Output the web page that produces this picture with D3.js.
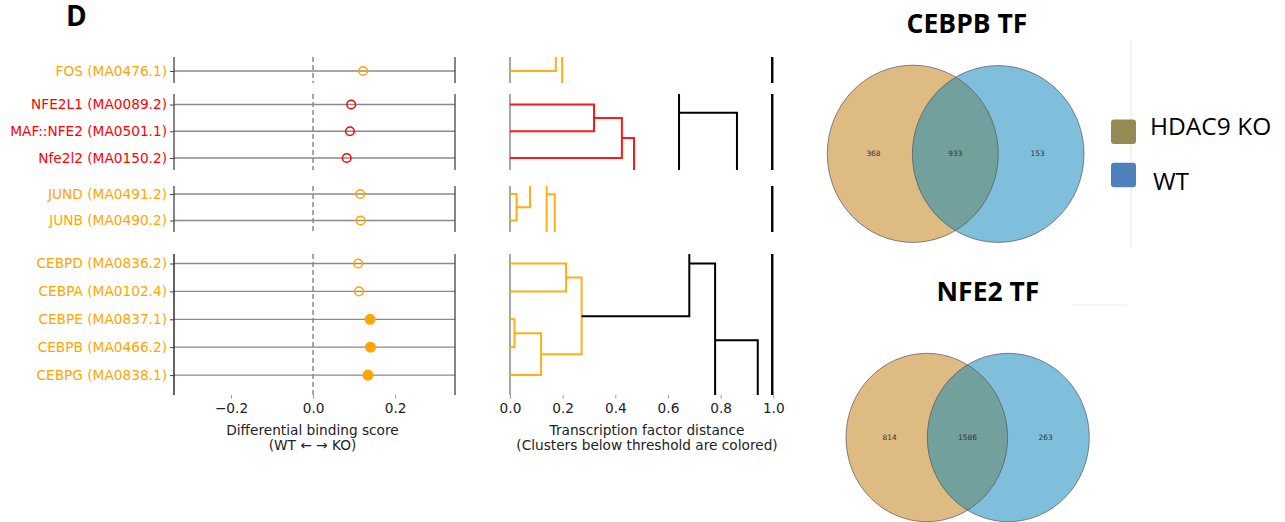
<!DOCTYPE html>
<html>
<head>
<meta charset="utf-8">
<script src="https://cdn.jsdelivr.net/npm/d3@7/dist/d3.min.js"></script>
<style>
  html, body { margin: 0; padding: 0; background: #fff; }
  svg { display: block; }
  .mpl { font-family: "DejaVu Sans", sans-serif; }
  .office { font-family: "Open Sans", "Liberation Sans", sans-serif; }
</style>
</head>
<body>
<svg id="fig" width="1285" height="522"></svg>
<script>
// ---- Transcription factors (top to bottom) ----
const tfNames = [
  "FOS (MA0476.1)",
  "NFE2L1 (MA0089.2)", "MAF::NFE2 (MA0501.1)", "Nfe2l2 (MA0150.2)",
  "JUND (MA0491.2)", "JUNB (MA0490.2)",
  "CEBPD (MA0836.2)", "CEBPA (MA0102.4)", "CEBPE (MA0837.1)", "CEBPB (MA0466.2)", "CEBPG (MA0838.1)"
];
const tfScores = [0.122, 0.093, 0.090, 0.082, 0.115, 0.116, 0.110, 0.112, 0.139, 0.140, 0.134];
const tfSignificant = [false, false, false, false, false, false, false, false, true, true, true];
const tfCluster = ["orange", "red", "red", "red", "orange", "orange", "orange", "orange", "orange", "orange", "orange"];
const groupSizes = [1, 3, 2, 5];

// ---- Axis ticks ----
const scoreTicks = [-0.2, 0.0, 0.2];
const distanceTicks = [0.0, 0.2, 0.4, 0.6, 0.8, 1.0];

// ---- Dendrogram links per cluster: [distance, leaf index] polylines ----
const dendroGroup1 = [
  { c: "orange", p: [[0, 0], [0.174, 0], [0.174, -1]] },
  { c: "orange", p: [[0.198, -1], [0.198, 2]] },
  { c: "black", p: [[0.996, -1], [0.996, 2]] }
];
const dendroGroup2 = [
  { c: "red", p: [[0, 0], [0.319, 0], [0.319, 1], [0, 1]] },
  { c: "red", p: [[0.319, 0.5], [0.425, 0.5], [0.425, 2], [0, 2]] },
  { c: "red", p: [[0.425, 1.25], [0.471, 1.25], [0.471, 4]] },
  { c: "black", p: [[0.642, -1], [0.642, 4]] },
  { c: "black", p: [[0.642, 0.31], [0.862, 0.31], [0.862, 4]] },
  { c: "black", p: [[0.996, -1], [0.996, 4]] }
];
const dendroGroup3 = [
  { c: "orange", p: [[0, 0], [0.025, 0], [0.025, 1], [0, 1]] },
  { c: "orange", p: [[0.025, 0.5], [0.076, 0.5], [0.076, -1]] },
  { c: "orange", p: [[0.139, -1], [0.139, 3]] },
  { c: "orange", p: [[0.139, 0.01], [0.170, 0.01], [0.170, 3]] },
  { c: "black", p: [[0.996, -1], [0.996, 3]] }
];
const dendroGroup4 = [
  { c: "orange", p: [[0, 0], [0.213, 0], [0.213, 1], [0, 1]] },
  { c: "orange", p: [[0, 2], [0.017, 2], [0.017, 3], [0, 3]] },
  { c: "orange", p: [[0.017, 2.5], [0.118, 2.5], [0.118, 4], [0, 4]] },
  { c: "orange", p: [[0.213, 0.5], [0.272, 0.5], [0.272, 3.25], [0.118, 3.25]] },
  { c: "black", p: [[0.272, 1.89], [0.681, 1.89], [0.681, -1]] },
  { c: "black", p: [[0.681, 0.0], [0.779, 0.0], [0.779, 7]] },
  { c: "black", p: [[0.779, 2.75], [0.941, 2.75], [0.941, 7]] },
  { c: "black", p: [[0.996, -1], [0.996, 7]] }
];
const dendroGroups = [dendroGroup1, dendroGroup2, dendroGroup3, dendroGroup4];

// ---- Venn diagram counts: [KO only, shared, WT only] ----
const vennTitles = ["CEBPB TF", "NFE2 TF"];
const cebpbCounts = [368, 933, 153];
const nfe2Counts = [814, 1586, 263];
const legendLabels = ["HDAC9 KO", "WT"];
const legendColors = ["#948A54", "#4F81BD"];

const svg = d3.select("#fig");
const colorOf = { orange: "#FFA500", red: "#FF0000", black: "#000000" };
const FS = 13.7;

// Panel letter
svg.append("text").attr("class", "office").attr("x", 66).attr("y", 26)
  .attr("font-size", 28).attr("font-weight", 700).attr("fill", "#000").text("D");

// Vertical layout of the four cluster panels
const panels = [
  { top: 57, bottom: 83, first: 71, step: 27 },
  { top: 94, bottom: 170, first: 104.5, step: 26.75 },
  { top: 186, bottom: 232, first: 194, step: 26.5 },
  { top: 254, bottom: 395, first: 263.5, step: 27.9 }
];

const xScore = d3.scaleLinear().domain([-0.339, 0.346]).range([174, 455]);
const xDist = d3.scaleLinear().domain([0, 1]).range([510, 773.3]);

let rowStart = 0;
groupSizes.forEach((n, g) => {
  const pnl = panels[g];
  const y = d3.scaleLinear().domain([0, 1]).range([pnl.first, pnl.first + pnl.step]);
  const idx = d3.range(n);
  const rows = idx.map(i => rowStart + i);

  // --- Differential binding score panel ---
  const left = svg.append("g").attr("class", "mpl");
  left.selectAll("line.row").data(rows).join("line")
    .attr("x1", xScore.range()[0]).attr("x2", xScore.range()[1])
    .attr("y1", (r, i) => y(i)).attr("y2", (r, i) => y(i))
    .attr("stroke", "#8a8a8a").attr("stroke-width", 1.3);
  left.append("line")
    .attr("x1", xScore(0)).attr("x2", xScore(0))
    .attr("y1", pnl.top).attr("y2", pnl.bottom)
    .attr("stroke", "#8a8a8a").attr("stroke-width", 1.5).attr("stroke-dasharray", "5,3");
  [xScore.range()[0], xScore.range()[1]].forEach((x, k) => {
    left.append("line").attr("x1", x).attr("x2", x).attr("y1", pnl.top).attr("y2", pnl.bottom)
      .attr("stroke", k === 0 && g === 3 ? "#111" : "#444").attr("stroke-width", 1.3);
  });
  const yAxis = d3.axisLeft(y)
    .tickValues(idx).tickSize(4).tickPadding(3).tickFormat(i => tfNames[rowStart + i]);
  const ya = left.append("g").attr("transform", `translate(${xScore.range()[0]},0)`).call(yAxis);
  ya.select(".domain").remove();
  ya.selectAll(".tick line").attr("stroke", "#444").attr("stroke-width", 1);
  ya.selectAll(".tick text").attr("font-size", FS)
    .attr("font-family", "DejaVu Sans, sans-serif")
    .attr("fill", i => colorOf[tfCluster[rowStart + i]]);
  left.selectAll("circle.score").data(rows).join("circle")
    .attr("cx", r => xScore(tfScores[r]))
    .attr("cy", (r, i) => y(i))
    .attr("r", r => tfSignificant[r] ? 4.8 : 4.3)
    .attr("fill", r => tfSignificant[r] ? colorOf[tfCluster[r]] : "none")
    .attr("stroke", r => colorOf[tfCluster[r]])
    .attr("stroke-width", 1.5);

  // --- Dendrogram panel ---
  const clipId = "clip" + g;
  svg.append("clipPath").attr("id", clipId).append("rect")
    .attr("x", 500).attr("y", pnl.top).attr("width", 290).attr("height", pnl.bottom - pnl.top);
  const dend = svg.append("g").attr("clip-path", `url(#${clipId})`);
  dend.append("line").attr("x1", xDist(0)).attr("x2", xDist(0))
    .attr("y1", pnl.top).attr("y2", pnl.bottom).attr("stroke", "#888").attr("stroke-width", 1.5);
  const line = d3.line().x(d => xDist(d[0])).y(d => y(d[1]));
  dend.selectAll("path.link").data(dendroGroups[g]).join("path")
    .attr("d", d => line(d.p))
    .attr("fill", "none")
    .attr("stroke", d => colorOf[d.c])
    .attr("stroke-width", d => (d.c === "black" && d.p[0][0] > 0.99) ? 2.4 : 2)
    .attr("stroke-opacity", d => d.c === "black" ? 1 : 0.9);

  rowStart += n;
});

// Bottom axes
function bottomAxis(scale, ticks, fmt) {
  const ax = d3.axisBottom(scale).tickValues(ticks).tickSize(3.5).tickPadding(5).tickFormat(fmt);
  const g = svg.append("g").attr("class", "mpl").attr("transform", "translate(0,395)").call(ax);
  g.select(".domain").remove();
  g.selectAll(".tick line").attr("stroke", "#999").attr("stroke-width", 1);
  g.selectAll(".tick text").attr("font-size", FS).attr("fill", "#222")
    .attr("font-family", "DejaVu Sans, sans-serif");
  return g;
}
bottomAxis(xScore, scoreTicks, d3.format(".1f"));
bottomAxis(xDist, distanceTicks, d3.format(".1f"));

function axisTitle(x, lines) {
  const t = svg.append("text").attr("class", "mpl").attr("text-anchor", "middle")
    .attr("font-size", FS).attr("fill", "#222");
  lines.forEach((s, i) => t.append("tspan").attr("x", x).attr("y", 435 + i * 15).text(s));
}
axisTitle(312.5, ["Differential binding score", "(WT \u2190 \u2192 KO)"]);
axisTitle(647, ["Transcription factor distance", "(Clusters below threshold are colored)"]);

// ---- Venn diagrams ----
const venns = [
  { title: vennTitles[0], counts: cebpbCounts, tx: 967, ty: 33,
    a: { cx: 912.8, cy: 153.8, rx: 85.5, ry: 88.6 }, b: { cx: 998.2, cy: 154, rx: 85.8, ry: 88.4 } },
  { title: vennTitles[1], counts: nfe2Counts, tx: 988, ty: 301,
    a: { cx: 926.8, cy: 437.5, rx: 80.8, ry: 84.2 }, b: { cx: 1008.3, cy: 437.5, rx: 81, ry: 84.2 } }
];
venns.forEach((v, k) => {
  svg.append("text").attr("class", "office").attr("x", v.tx).attr("y", v.ty)
    .attr("text-anchor", "middle").attr("font-size", 26.5).attr("font-weight", 700)
    .attr("fill", "#000").text(v.title);
  const g = svg.append("g");
  const clip = "vennclip" + k;
  svg.append("clipPath").attr("id", clip).append("ellipse")
    .attr("cx", v.b.cx).attr("cy", v.b.cy).attr("rx", v.b.rx).attr("ry", v.b.ry);
  g.append("ellipse").attr("cx", v.a.cx).attr("cy", v.a.cy).attr("rx", v.a.rx).attr("ry", v.a.ry)
    .attr("fill", "#DDBB83");
  g.append("ellipse").attr("cx", v.b.cx).attr("cy", v.b.cy).attr("rx", v.b.rx).attr("ry", v.b.ry)
    .attr("fill", "#80BFDC");
  g.append("ellipse").attr("cx", v.a.cx).attr("cy", v.a.cy).attr("rx", v.a.rx).attr("ry", v.a.ry)
    .attr("fill", "#72A09C").attr("clip-path", `url(#${clip})`);
  [v.a, v.b].forEach(e => g.append("ellipse").attr("cx", e.cx).attr("cy", e.cy)
    .attr("rx", e.rx).attr("ry", e.ry).attr("fill", "none")
    .attr("stroke", "#555").attr("stroke-opacity", 0.7).attr("stroke-width", 1));
  const lx = [
    v.a.cx - v.a.rx * 0.46,
    (v.a.cx + v.a.rx + v.b.cx - v.b.rx) / 2,
    v.b.cx + v.b.rx * 0.46
  ];
  g.selectAll("text.count").data(v.counts).join("text")
    .attr("class", "mpl").attr("x", (d, i) => lx[i]).attr("y", v.a.cy + 2.5)
    .attr("text-anchor", "middle").attr("font-size", 7.4).attr("fill", "#333")
    .text(d => d);
});

// Separator strokes
svg.append("line").attr("x1", 1131).attr("x2", 1131).attr("y1", 40).attr("y2", 248)
  .attr("stroke", "#e4e4e4").attr("stroke-width", 1);
svg.append("line").attr("x1", 1072).attr("x2", 1127).attr("y1", 305).attr("y2", 305)
  .attr("stroke", "#eeeeee").attr("stroke-width", 1);

// Legend
const legend = svg.append("g").attr("class", "office");
legend.selectAll("rect").data(legendLabels).join("rect")
  .attr("x", 1111).attr("y", (d, i) => 119.5 + i * 43.3)
  .attr("width", 25).attr("height", 24.5).attr("rx", 3)
  .attr("fill", (d, i) => legendColors[i]);
legend.selectAll("text").data(legendLabels).join("text")
  .attr("x", (d, i) => i === 0 ? 1150 : 1153)
  .attr("y", (d, i) => i === 0 ? 134.5 : 189.5)
  .attr("font-size", 24.5).attr("fill", "#000").text(d => d);
</script>
</body>
</html>
